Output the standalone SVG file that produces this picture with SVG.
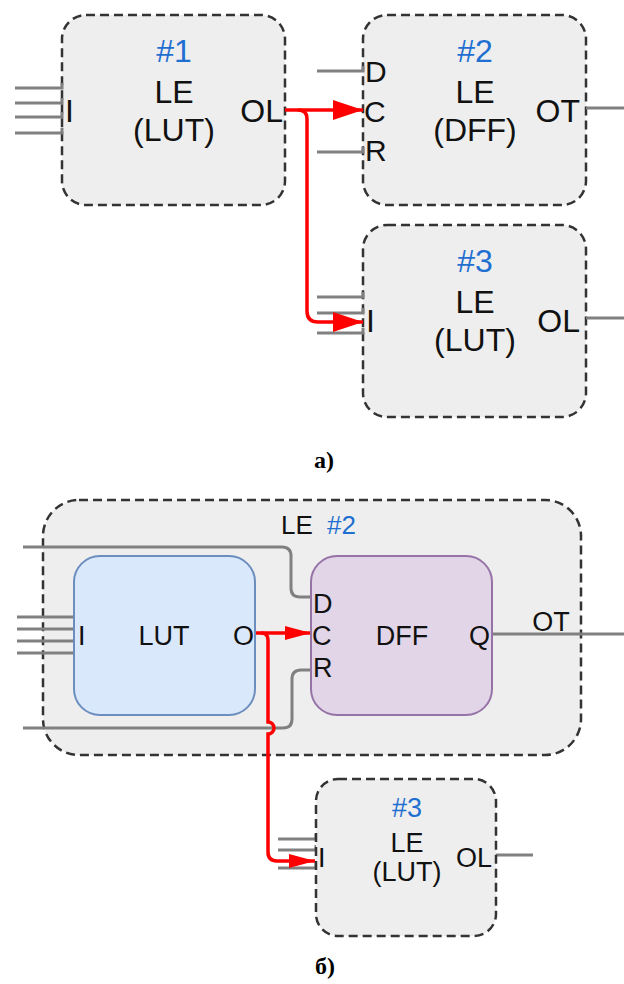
<svg xmlns="http://www.w3.org/2000/svg" width="624" height="984" viewBox="0 0 624 984">
<defs>
<style>
.le{fill:#eeeeee;stroke:#333333;stroke-width:2.5;stroke-dasharray:9 5}
.w{fill:none;stroke:#808080;stroke-width:3}
.r{fill:none;stroke:#ff0000;stroke-width:3.5}
.t{font-family:"Liberation Sans",Arial,sans-serif;fill:#111111}
.b{font-family:"Liberation Sans",Arial,sans-serif;fill:#1f6fd1}
.m{text-anchor:middle}
.e{text-anchor:end}
.cap{font-family:"Liberation Serif","Times New Roman",serif;font-weight:bold;font-size:24px;fill:#000;text-anchor:middle}
</style>
<marker id="arrA" markerUnits="userSpaceOnUse" viewBox="0 0 30 20" markerWidth="30" markerHeight="20" refX="30" refY="10" orient="auto"><path d="M0,0 L30,10 L0,20 Z" fill="#ff0000"/></marker>
<marker id="arrB" markerUnits="userSpaceOnUse" viewBox="0 0 26 14" markerWidth="26" markerHeight="14" refX="26" refY="7" orient="auto"><path d="M0,0 L26,7 L0,14 Z" fill="#ff0000"/></marker>
</defs>
<rect width="624" height="984" fill="#ffffff"/>

<!-- Part a -->
<g id="a-le1">
<rect class="le" x="62" y="15" width="223" height="190" rx="24"/>
<text class="b m" x="174" y="62" font-size="32">#1</text>
<text class="t m" x="174" y="103" font-size="32">LE</text>
<text class="t m" x="174" y="141" font-size="32">(LUT)</text>
<text class="t" x="65" y="122" font-size="32">I</text>
<text class="t e" x="283" y="122" font-size="32">OL</text>
</g>
<g id="a-le2">
<rect class="le" x="363" y="15" width="223" height="190" rx="24"/>
<text class="b m" x="475" y="62" font-size="32">#2</text>
<text class="t m" x="475" y="103" font-size="32">LE</text>
<text class="t m" x="475" y="141" font-size="32">(DFF)</text>
<text class="t" x="365" y="82" font-size="30">D</text>
<text class="t" x="364" y="122" font-size="30">C</text>
<text class="t" x="365" y="161" font-size="30">R</text>
<text class="t e" x="580" y="122" font-size="32">OT</text>
</g>
<g id="a-le3">
<rect class="le" x="363" y="225" width="223" height="192" rx="24"/>
<text class="b m" x="475" y="272" font-size="32">#3</text>
<text class="t m" x="475" y="313" font-size="32">LE</text>
<text class="t m" x="475" y="351" font-size="32">(LUT)</text>
<text class="t" x="366" y="332" font-size="32">I</text>
<text class="t e" x="580" y="332" font-size="32">OL</text>
</g>
<text class="cap" x="324" y="468">а)</text>

<!-- Part b -->
<g id="b-le2">
<rect class="le" x="43" y="500" width="538" height="255" rx="36"/>
<text class="t" x="281" y="534" font-size="26">LE</text>
<text class="b" x="327" y="534" font-size="26">#2</text>
</g>

<g id="connectors">
<!-- a inputs -->
<path class="w" d="M15,88 H62 V83 M15,103 H62 V98 M15,117 H62 V112 M15,133 H62 V128"/>
<path class="w" d="M317,71 H363 V66 M317,152 H363 V147 M586,108 H624"/>
<path class="w" d="M317,297 H363 V292 M317,313 H363 V308 M317,333 H363 V328 M586,318 H624"/>
<path class="r" d="M285,110 H363" marker-end="url(#arrA)"/>
<path class="r" d="M298,110 Q307,110 307,119 V311 Q307,322 318,322 H363" marker-end="url(#arrA)"/>
<!-- b wires -->
<path class="w" d="M17,617 H74 M17,629 H74 M17,641 H74 M17,653 H74"/>
<path class="w" d="M23,547 H282 Q291,547 291,556 V588 Q291,597 300,597 H311"/>
<path class="w" d="M23,728 H283 Q292,728 292,719 V679 Q292,670 301,670 H311"/>
<path class="w" d="M492,634 H624"/>
<path class="w" d="M278,839 H316 V834 M278,850 H316 V845 M278,868 H316 V863 M496,855 H533"/>
<path class="r" d="M255,633 H311" marker-end="url(#arrB)"/>
<path class="r" d="M261,633 Q268,633 268,640 V722 A6,6 0 0 1 268,734 V852 Q268,861 277,861 H315" marker-end="url(#arrB)"/>
</g>

<g id="b-lut">
<rect x="74" y="556" width="181" height="159" rx="26" fill="#dae8fc" stroke="#6c8ebf" stroke-width="2"/>
<text class="t" x="78" y="645" font-size="27">I</text>
<text class="t m" x="164" y="645" font-size="27">LUT</text>
<text class="t e" x="254" y="645" font-size="27">O</text>
</g>
<g id="b-dff">
<rect x="311" y="556" width="181" height="159" rx="26" fill="#e1d5e7" stroke="#9673a6" stroke-width="2"/>
<text class="t" x="313" y="613" font-size="27">D</text>
<text class="t" x="312" y="645" font-size="27">C</text>
<text class="t" x="313" y="677" font-size="27">R</text>
<text class="t m" x="402" y="645" font-size="27">DFF</text>
<text class="t e" x="490" y="645" font-size="27">Q</text>
</g>
<text class="t m" x="551" y="631" font-size="27">OT</text>

<g id="b-le3">
<rect class="le" x="316" y="779" width="180" height="157" rx="22"/>
<text class="b m" x="407" y="817" font-size="27">#3</text>
<text class="t m" x="407" y="852" font-size="27">LE</text>
<text class="t m" x="407" y="881" font-size="27">(LUT)</text>
<text class="t" x="318" y="867" font-size="27">I</text>
<text class="t e" x="492" y="867" font-size="27">OL</text>
</g>
<text class="cap" x="325" y="974">б)</text>
</svg>
